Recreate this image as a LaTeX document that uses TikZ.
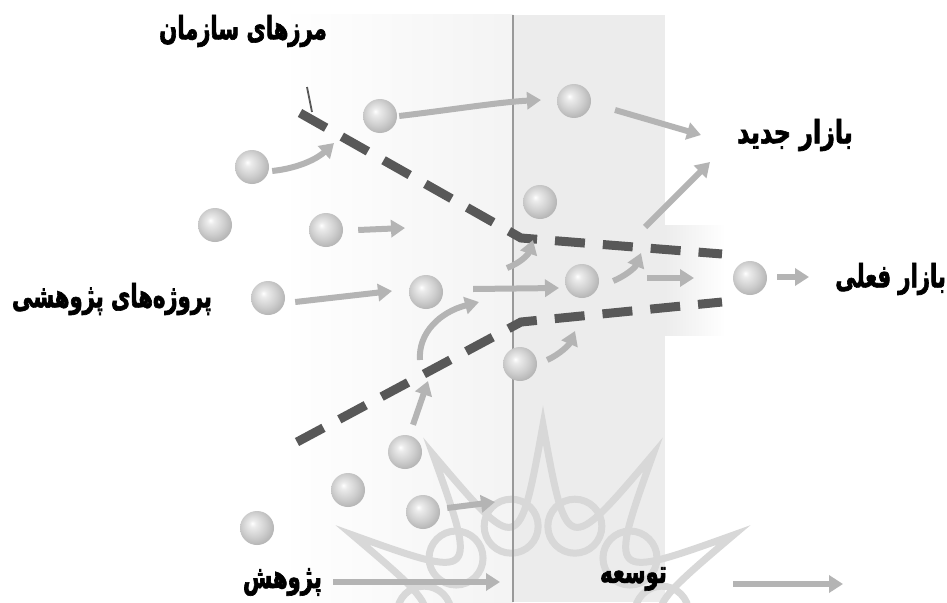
\documentclass[tikz,border=0pt]{standalone}
\usepackage{fontspec}
\newfontfamily\arabicfont[Script=Arabic,FakeStretch=0.66,FakeBold=2]{DejaVu Sans Bold}
\TeXXeTstate=1
\usetikzlibrary{arrows.meta}
\definecolor{dashc}{HTML}{585858}
\definecolor{flowc}{HTML}{B4B4B4}
\definecolor{markc}{HTML}{D8D8D8}
\definecolor{panelc}{HTML}{ECECEC}
\pgfdeclareradialshading{softball}{\pgfpoint{-7bp}{7bp}}{color(0bp)=(white); color(5bp)=(gray!15); color(18bp)=(gray!38); color(30bp)=(gray!62); color(50bp)=(gray!66)}
\begin{document}
\begin{tikzpicture}[x=1pt,y=-1pt,
  ball/.style={circle,minimum size=34pt,inner sep=0pt,shading=softball},
  flow/.style={draw=flowc,line width=6pt,-{Triangle[length=14pt,width=17pt]}},
  bound/.style={draw=dashc,line width=9pt,dash pattern=on 30pt off 18pt},
  wmark/.style={draw=markc,line width=7pt},
  lbl/.style={font=\arabicfont\fontsize{32}{34}\selectfont,inner sep=0pt,text=black,anchor=east}]
\useasboundingbox (0,0) rectangle (947,602);
\fill[white] (0,0) rectangle (947,602);
\begin{scope}
\clip (0,0) rectangle (947,602);
% panels
\shade[left color=white,right color=gray!9] (280,15) rectangle (513,602);
\fill[panelc] (513,15) rectangle (665,602);
\shade[left color=panelc,right color=white] (665,225) rectangle (725,335);
% watermark
\begin{scope}[shift={(543,645)}]
\draw[wmark] (0:220) \foreach \i in {0,...,11}{ .. controls ({-15-30*\i}:92) .. ({-30-30*\i}:220)} -- cycle;
\foreach \i in {0,...,11}{\draw[wmark] ({-15-30*\i}:123) circle (27);}
\end{scope}
\end{scope}
% separator
\draw[draw=gray!80,line width=2pt] (513,15) -- (513,602);
% boundaries
\coordinate (u0) at (300,113);
\coordinate (u1) at (521,238);
\coordinate (u2) at (722,254);
\coordinate (l0) at (297,442);
\coordinate (l1) at (521,322);
\coordinate (l2) at (722,302);
\coordinate (t0) at (307,87);
\coordinate (t1) at (312,112);
\draw[bound] (u0) -- (u1) -- (u2);
\draw[bound] (l0) -- (l1) -- (l2);
% balls
\node[ball] (b1) at (380,116) {};
\node[ball] (b2) at (574,101) {};
\node[ball] (b3) at (252,167) {};
\node[ball] (b4) at (215,225) {};
\node[ball] (b5) at (326,230) {};
\node[ball] (b6) at (268,298) {};
\node[ball] (b7) at (426,292) {};
\node[ball] (b8) at (540,202) {};
\node[ball] (b9) at (582,281) {};
\node[ball] (b10) at (520,364) {};
\node[ball] (b11) at (750,278) {};
\node[ball] (b12) at (405,452) {};
\node[ball] (b13) at (348,490) {};
\node[ball] (b14) at (423,512) {};
\node[ball] (b15) at (257,528) {};
% flow arrows
\coordinate (e1) at (334,143);
\coordinate (e2) at (541,100);
\coordinate (s3) at (615,110); \coordinate (e3) at (701,135);
\coordinate (s4) at (645,227); \coordinate (e4) at (710,162);
\coordinate (e5) at (405,228);
\coordinate (e6) at (392,291);
\coordinate (e7) at (559,288);
\coordinate (s8) at (420,360); \coordinate (e8) at (479,302);
\coordinate (s9) at (507,268); \coordinate (e9) at (533,240);
\coordinate (e10) at (575,331);
\coordinate (e11) at (641,253);
\coordinate (s12) at (647,278); \coordinate (e12) at (694,278);
\coordinate (e13) at (809,277);
\coordinate (e14) at (428,381);
\coordinate (e15) at (495,502);
\draw[flow] (b3.east) ++(3,4) .. controls (300,168) and (318,158) .. (e1);
\draw[flow] (b1.east) ++(2,0) .. controls (450,110) and (500,102) .. (e2);
\draw[flow] (s3) -- (e3);
\draw[flow] (s4) -- (e4);
\draw[flow] (b5.east) ++(15,0) -- (e5);
\draw[flow] (b6.east) ++(10,4) -- (e6);
\draw[flow] (b7.east) ++(30,-3) -- (e7);
\draw[flow] (s8) .. controls (418,333) and (440,312) .. (e8);
\draw[flow] (s9) .. controls (520,263) and (528,255) .. (e9);
\draw[flow] (b10.east) ++(10,-4) .. controls (560,354) and (569,345) .. (e10);
\draw[flow] (b9.east) ++(14,0) .. controls (625,276) and (635,268) .. (e11);
\draw[flow] (s12) -- (e12);
\draw[flow] (b11.east) ++(10,-1) -- (e13);
\draw[flow] (b12.north) ++(8,-10) -- (e14);
\draw[flow] (b14.east) ++(7,-4) -- (e15);
% labels
\node[lbl] (tb) at (327,31) {\beginR مرزهای سازمان\endR};
\node[lbl] (tn) at (853,135) {\scalebox{1.13}[1]{\beginR بازار جدید\endR}};
\node[lbl] (tc) at (946,279) {\beginR بازار فعلی\endR};
\node[lbl] (tp) at (212,299) {\beginR پروژه‌های پژوهشی\endR};
\node[lbl] (tr) at (322,582) {\beginR پژوهش\endR};
\node[lbl] (td) at (667,579) {\beginR توسعه\endR};
% bottom arrows
\coordinate (r1) at (500,582);
\coordinate (d0) at (733,584);
\coordinate (d1) at (843,584);
\draw[flow] (tr.east) ++(11,0) -- (r1);
\draw[flow] (d0) -- (d1);
\draw[dashc,line width=1.8pt] (t0) -- (t1);
\end{tikzpicture}
\end{document}
